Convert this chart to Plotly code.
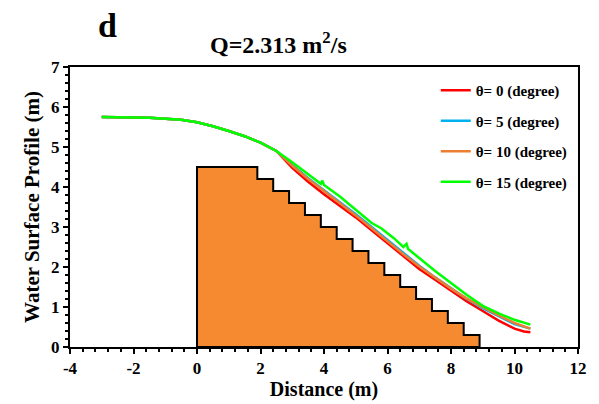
import plotly.graph_objects as go

# ---- data ----
step_edges = [0, 1.9, 2.4, 2.9, 3.4, 3.9, 4.4, 4.9, 5.4, 5.9, 6.4, 6.9, 7.4, 7.9, 8.4, 8.9]
step_levels = [4.5, 4.2, 3.9, 3.6, 3.3, 3.0, 2.7, 2.4, 2.1, 1.8, 1.5, 1.2, 0.9, 0.6, 0.3]

x_up = [-3.0, -2.5, -2.0, -1.5, -1.0, -0.5, 0.0, 0.5, 1.0, 1.5, 2.0, 2.5]
y_up = [5.75, 5.75, 5.74, 5.73, 5.71, 5.68, 5.62, 5.52, 5.40, 5.27, 5.11, 4.90]

x_t0 = [3.0, 3.5, 4.0, 4.5, 5.0, 5.5, 6.0, 6.5, 7.0, 7.5, 8.0, 8.5, 9.0, 9.5, 10.0, 10.3, 10.5]
y_t0 = [4.48, 4.13, 3.82, 3.54, 3.24, 2.92, 2.59, 2.26, 1.95, 1.68, 1.40, 1.14, 0.90, 0.66, 0.46, 0.39, 0.37]

x_t5 = [3.0, 3.5, 4.0, 4.5, 5.0, 5.5, 6.0, 6.5, 7.0, 7.5, 8.0, 8.5, 9.0, 9.5, 10.0, 10.5]
y_t5 = [4.55, 4.22, 3.92, 3.63, 3.32, 3.00, 2.67, 2.35, 2.03, 1.74, 1.46, 1.20, 0.97, 0.76, 0.57, 0.46]

x_t10 = [3.0, 3.5, 4.0, 4.5, 5.0, 5.5, 6.0, 6.5, 7.0, 7.5, 8.0, 8.5, 9.0, 9.5, 10.0, 10.5]
y_t10 = [4.53, 4.20, 3.90, 3.60, 3.29, 2.97, 2.64, 2.32, 2.01, 1.73, 1.46, 1.21, 0.99, 0.79, 0.60, 0.46]

x_t15 = [3.0, 3.5, 3.9, 3.95, 4.0, 4.5, 5.0, 5.5, 5.8, 6.0, 6.2, 6.5, 6.6, 6.65, 7.0, 7.5, 8.0, 8.5, 9.0, 9.5, 10.0, 10.5]
y_t15 = [4.62, 4.32, 4.08, 4.16, 4.05, 3.76, 3.44, 3.10, 2.97, 2.85, 2.72, 2.50, 2.58, 2.45, 2.22, 1.90, 1.60, 1.30, 1.03, 0.84, 0.68, 0.56]

names = ["θ= 0 (degree)", "θ= 5 (degree)", "θ= 10 (degree)", "θ= 15 (degree)"]
colors = ["#FF0000", "#00B0F0", "#ED7D31", "#00FF00"]

x_tickvals = [-4, -2, 0, 2, 4, 6, 8, 10, 12]
x_ticktext = ["-4", "-2", "0", "2", "4", "6", "8", "10", "12"]
y_tickvals = [0, 1, 2, 3, 4, 5, 6, 7]
y_ticktext = ["0", "1", "2", "3", "4", "5", "6", "7"]

# ---- build step polygon ----
px, py = [step_edges[0], step_edges[0]], [0, step_levels[0]]
for i, lev in enumerate(step_levels):
    px += [step_edges[i], step_edges[i + 1]]
    py += [lev, lev]
px += [step_edges[-1], step_edges[0]]
py += [0, 0]

fig = go.Figure()
fig.add_trace(go.Scatter(x=px, y=py, mode="lines", fill="toself",
                         fillcolor="#F68A30", line=dict(color="black", width=2),
                         showlegend=False, hoverinfo="skip"))

series = [(x_t0, y_t0), (x_t5, y_t5), (x_t10, y_t10), (x_t15, y_t15)]
for i, (xs, ys) in enumerate(series):
    fig.add_trace(go.Scatter(x=x_up + xs, y=y_up + ys, mode="lines", name=names[i],
                             line=dict(color=colors[i], width=2.5),
                             legendgroup=f"g{i}"))

font_fam = "Liberation Serif, Times New Roman, serif"
axis_common = dict(showline=True, linecolor="black", linewidth=2, mirror=True,
                   showgrid=False, zeroline=False, ticks="outside", ticklen=5,
                   tickwidth=2, tickcolor="black",
                   tickfont=dict(family=font_fam, size=17, color="black", weight="bold"))

fig.update_xaxes(range=[-4, 12], tickmode="array", tickvals=x_tickvals, ticktext=x_ticktext,
                 minor=dict(dtick=0.4, tick0=-4, ticks="outside", ticklen=3, tickwidth=1.5, tickcolor="black"),
                 title=dict(text="<b>Distance (m)</b>", font=dict(family=font_fam, size=20, color="black"), standoff=0),
                 **axis_common)
fig.update_yaxes(range=[0, 7], tickmode="array", tickvals=y_tickvals, ticktext=y_ticktext,
                 minor=dict(dtick=0.2, tick0=0, ticks="outside", ticklen=3, tickwidth=1.5, tickcolor="black"),
                 title=dict(text="<b>Water Surface Profile (m)</b>", font=dict(family=font_fam, size=21, color="black"), standoff=6),
                 **axis_common)

fig.update_layout(
    width=599, height=404,
    margin=dict(l=70, r=15, t=67, b=55),
    plot_bgcolor="white", paper_bgcolor="white",
    showlegend=True,
    legend=dict(x=0.72, y=0.975, xanchor="left", yanchor="top",
                font=dict(family=font_fam, size=15, color="black", weight="bold"),
                bgcolor="rgba(255,255,255,0)", tracegroupgap=8, itemwidth=30),
    annotations=[
        dict(text="<b>Q=2.313 m<sup>2</sup>/s</b>", xref="paper", yref="paper",
             x=0.41, y=1.085, xanchor="center", yanchor="middle", showarrow=False,
             font=dict(family=font_fam, size=24, color="black")),
        dict(text="<b>d</b>", xref="paper", yref="paper",
             x=0.074, y=1.15, xanchor="center", yanchor="middle", showarrow=False,
             font=dict(family=font_fam, size=34, color="black")),
    ],
)

fig.write_html("out.html", config={"displayModeBar": False},
               post_script="document.body.style.margin='0';")
